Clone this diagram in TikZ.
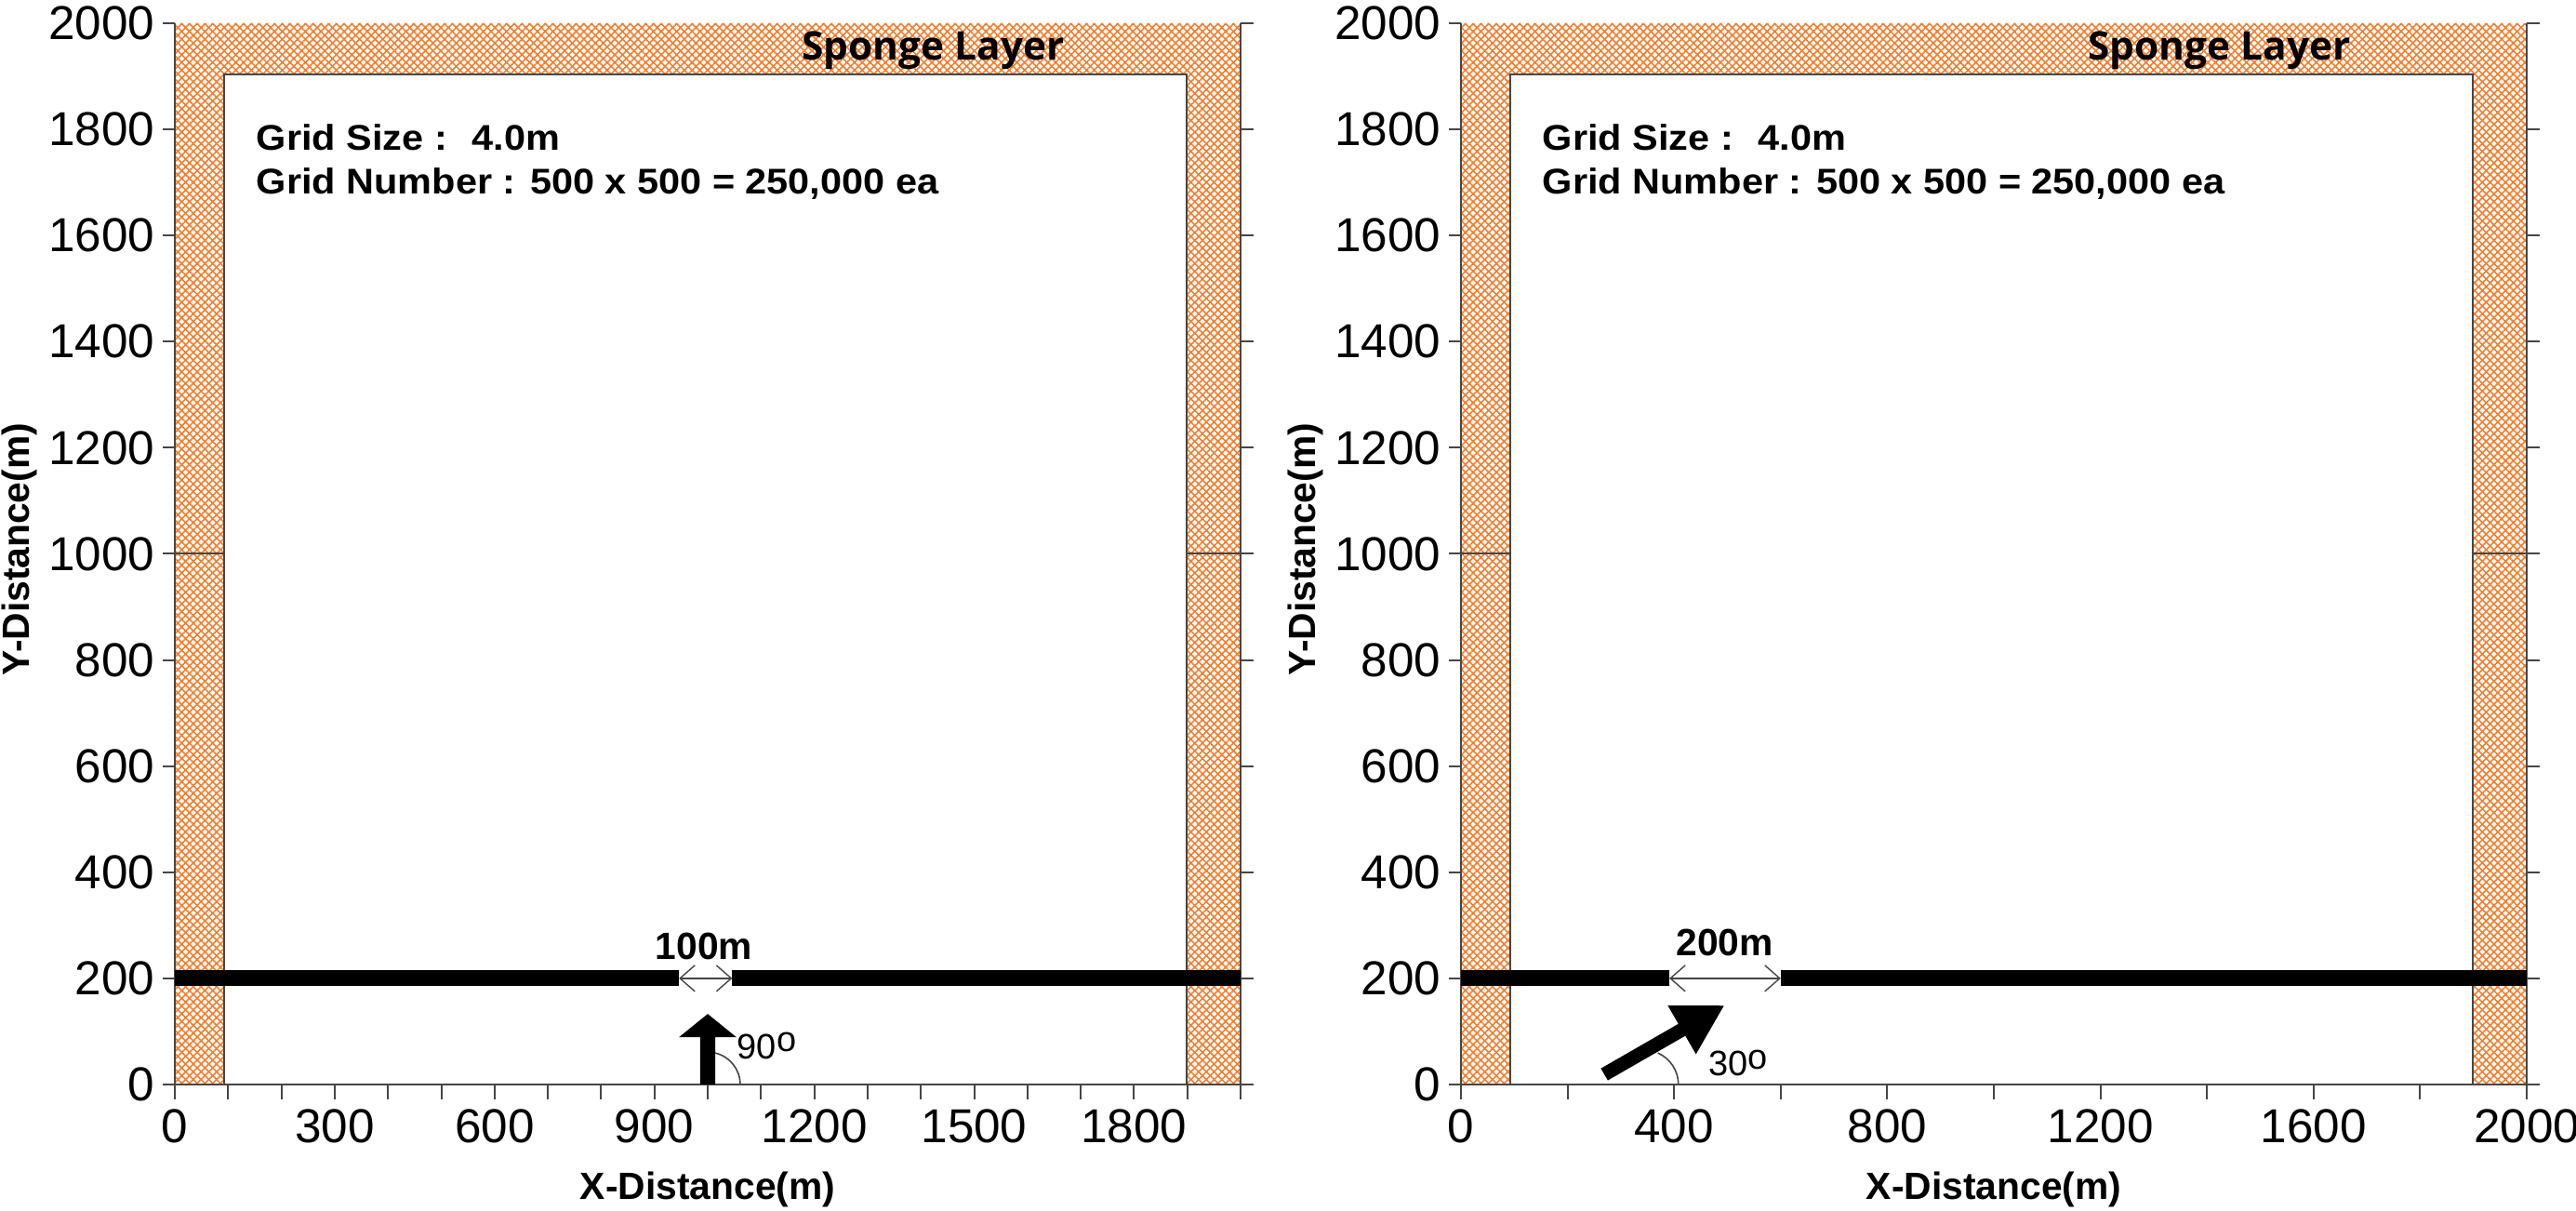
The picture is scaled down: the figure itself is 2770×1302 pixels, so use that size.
\documentclass[tikz,border=0pt]{standalone}
\usepackage{fontspec}
\setmainfont{Liberation Sans}
\newfontfamily\spongefont{Open Sans}
\usetikzlibrary{arrows.meta,patterns.meta}

\definecolor{hatch}{RGB}{244,125,45}
\definecolor{axisgray}{RGB}{70,70,70}

\tikzset{
  axisline/.style={draw=axisgray, line width=0.5pt},
  ticklab/.style={font=\fontsize{12.8}{12.8}\selectfont, inner sep=0pt},
  axlab/.style={font=\fontsize{10.2}{10.2}\selectfont\bfseries, inner sep=0pt},
  infotext/.style={font=\fontsize{9.6}{9.6}\selectfont\bfseries, inner sep=0pt, anchor=base west},
  spongelab/.style={font=\spongefont\bfseries\fontsize{10.6}{10.6}\selectfont, inner sep=0pt, anchor=base},
  dimlab/.style={font=\fontsize{10.2}{10.2}\selectfont\bfseries, inner sep=0pt, anchor=base},
  anglab/.style={font=\fontsize{9.5}{9.5}\selectfont, inner sep=0pt, anchor=base west},
  bwall/.style={fill=black},
  bigarrow/.style={fill=black},
  dimline/.style={draw=axisgray, line width=0.35pt,
    {Straight Barb[length=4pt,width=7pt]}-{Straight Barb[length=4pt,width=7pt]}},
  anglearc/.style={draw=axisgray, line width=0.4pt},
  hatchA/.style={pattern={Lines[angle=45,distance=1.47pt,line width=0.4pt]}, pattern color=hatch},
  hatchB/.style={pattern={Lines[angle=-45,distance=1.47pt,line width=0.4pt]}, pattern color=hatch},
}

\newcommand\degsign{\raisebox{0.2em}{o}}

\newcommand\spongeframe[1]{%
  \path[hatchA] (0,0) -- (0,2000) -- (2000,2000) -- (2000,0) -- (1898,0) -- (1898,1904) -- (92,1904) -- (92,0) -- cycle;
  \path[hatchB] (0,0) -- (0,2000) -- (2000,2000) -- (2000,0) -- (1898,0) -- (1898,1904) -- (92,1904) -- (92,0) -- cycle;
  \draw[axisline] (92,0) -- (92,1904) -- (1898,1904) -- (1898,0);
  \draw[axisline] (0,1000) -- (92,1000) (1898,1000) -- (2000,1000);
  \draw[axisline] (0,2000) -- (0,0) -- (2000,0) -- (2000,2000);
  \foreach \y in {0,200,...,2000}{
    \draw[axisline] (-22.7,\y) -- (0,\y);
    \draw[axisline] (2000,\y) -- (2024,\y);
    \node[ticklab,anchor=east] (#1y\y) at (-37,\y) {\y};
  }
  \node[axlab,rotate=90] (#1ylab) at (-291,1008) {Y-Distance(m)};
  \node[axlab,anchor=base] (#1xlab) at (1000,-217) {X-Distance(m)};
  \node[spongelab] (#1sponge) at (1423,1930) {Sponge Layer};
  \node[infotext] (#1gridA) at (152,1760) {\scalebox{1.08}[1]{Grid Size :~ 4.0m}};
  \node[infotext] (#1gridB) at (152,1679) {\scalebox{1.08}[1]{Grid Number : 500 x 500 = 250,000 ea}};
}

\begin{document}
\begin{tikzpicture}[x=0.25pt,y=0.25pt]
\path[use as bounding box] (0,0) rectangle (2770,1302);
\fill[white] (0,0) rectangle (2770,1302);

% ---------------- left plot ----------------
\begin{scope}[shift={(188,136)},xscale=0.573,yscale=0.5705]
  \spongeframe{L}
  \foreach \x in {0,100,...,2000}
    \draw[axisline] (\x,0) -- (\x,-28);
  \foreach \x in {0,300,...,1800}
    \node[ticklab,anchor=north] (Lx\x) at (\x,-45.6) {\x};
  % breakwaters
  \fill[bwall] (0,185) rectangle (946,215);
  \fill[bwall] (1046,185) rectangle (2000,215);
  \coordinate (LgapA) at (946,200);
  \coordinate (LgapB) at (1046,200);
  \draw[dimline] (LgapA) -- (LgapB);
  \node[dimlab] (Lgaplab) at (993,235) {100m};
  % incident wave arrow
  \fill[bigarrow] (986,0) -- (986,89) -- (946,89) -- (1000,133) -- (1054,89) -- (1014,89) -- (1014,0) -- cycle;
  \draw[anglearc] (1014,59.4) arc[start angle=76.7, end angle=0, radius=61];
  \node[anglab] (Lang) at (1054,49) {90\degsign};
\end{scope}

% ---------------- right plot ----------------
\begin{scope}[shift={(1571,136)},xscale=0.573,yscale=0.5705]
  \spongeframe{R}
  \foreach \x in {0,200,...,2000}
    \draw[axisline] (\x,0) -- (\x,-28);
  \foreach \x in {0,400,...,2000}
    \node[ticklab,anchor=north] (Rx\x) at (\x,-45.6) {\x};
  % breakwaters
  \fill[bwall] (0,185) rectangle (391,215);
  \fill[bwall] (600,185) rectangle (2000,215);
  \coordinate (RgapA) at (391,200);
  \coordinate (RgapB) at (600,200);
  \draw[dimline] (RgapA) -- (RgapB);
  \node[dimlab] (Rgaplab) at (495,243) {200m};
  % incident wave arrow (30 deg)
  \begin{scope}[shift={(269,19)},rotate=30]
    \fill[bigarrow] (0,-13) -- (168,-13) -- (168,-53) -- (259,0) -- (168,53) -- (168,13) -- (0,13) -- cycle;
  \end{scope}
  \draw[anglearc] (369.4,59.4) arc[start angle=66, end angle=0, radius=65];
  \node[anglab] (Rang) at (464,16) {30\degsign};
\end{scope}
\end{tikzpicture}
\end{document}
